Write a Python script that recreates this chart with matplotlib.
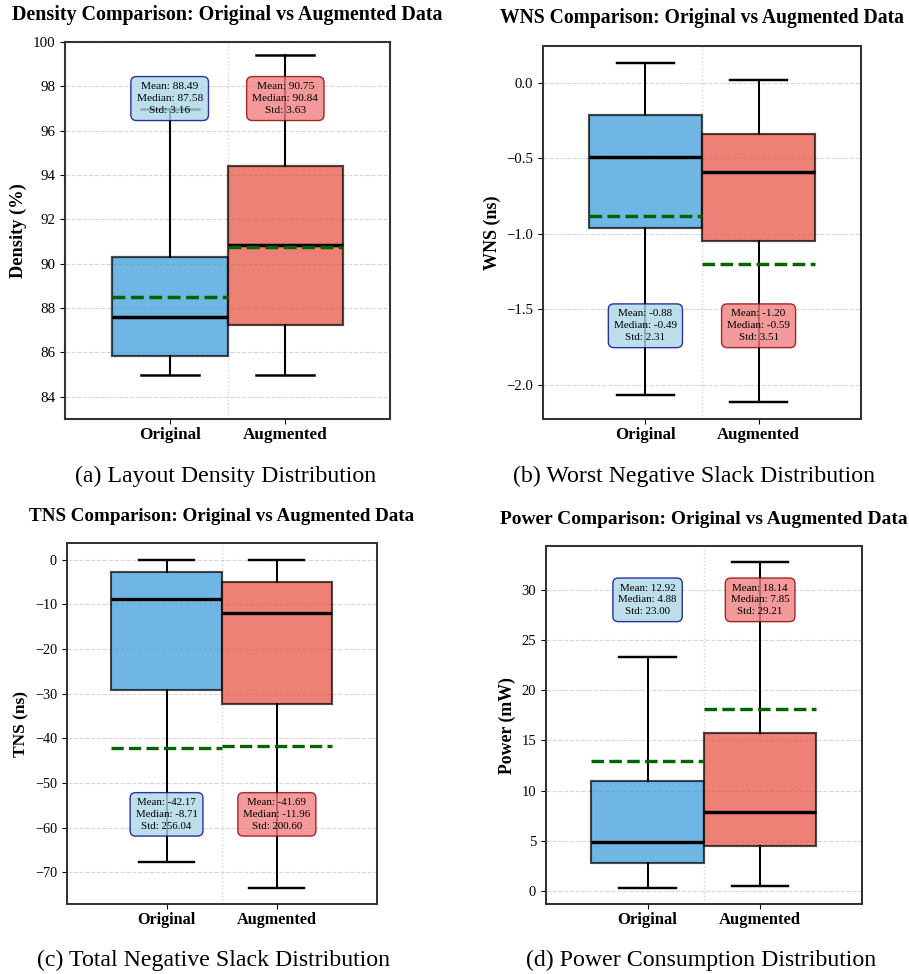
import matplotlib
matplotlib.use("Agg")
import matplotlib.pyplot as plt

plt.rcParams.update({
    'font.family': ['Liberation Serif', 'DejaVu Serif'],
})

groups = ["Original", "Augmented"]

# Density (%)
density_whislo = [85.0, 85.0]
density_q1 = [85.84, 87.22]
density_med = [87.58, 90.84]
density_q3 = [90.30, 94.41]
density_whishi = [97.0, 99.41]
density_mean = [88.49, 90.75]
density_std = [3.16, 3.63]

# WNS (ns)
wns_whislo = [-2.067, -2.115]
wns_q1 = [-0.961, -1.049]
wns_med = [-0.49, -0.59]
wns_q3 = [-0.216, -0.342]
wns_whishi = [0.132, 0.020]
wns_mean = [-0.88, -1.20]
wns_std = [2.31, 3.51]

# TNS (ns)
tns_whislo = [-67.6, -73.4]
tns_q1 = [-29.1, -32.4]
tns_med = [-8.71, -11.96]
tns_q3 = [-2.84, -5.09]
tns_whishi = [0.0, 0.0]
tns_mean = [-42.17, -41.69]
tns_std = [256.04, 200.60]

# Power (mW)
power_whislo = [0.26, 0.43]
power_q1 = [2.8, 4.5]
power_med = [4.88, 7.85]
power_q3 = [11.0, 15.76]
power_whishi = [23.33, 32.8]
power_mean = [12.92, 18.14]
power_std = [23.00, 29.21]

W, H = 909, 974
fig = plt.figure(figsize=(W / 100, H / 100), dpi=100)


def px_axes(l, t, r, b):
    return fig.add_axes([l / W, 1 - b / H, (r - l) / W, (b - t) / H])


def draw_panel(rect, s, whislo, q1, med, q3, whishi, mean, std,
               ylabel, title, title_xy, caption, caption_xy, text_y, ylim=None):
    ax = px_axes(*rect)
    stats = []
    for i in range(2):
        stats.append(dict(whislo=whislo[i], q1=q1[i], med=med[i], q3=q3[i],
                          whishi=whishi[i], mean=mean[i], fliers=[]))
    bp = ax.bxp(stats, positions=[1, 2], widths=1.0, patch_artist=True,
                showmeans=True, meanline=True,
                medianprops=dict(color='black', linewidth=2.5 * s),
                meanprops=dict(color='darkgreen', linestyle='--', linewidth=2.5 * s),
                whiskerprops=dict(color='black', linewidth=1.5 * s),
                capprops=dict(color='black', linewidth=1.8 * s),
                boxprops=dict(linewidth=1.6 * s))
    for patch, c in zip(bp['boxes'], ['#3498db', '#e74c3c']):
        patch.set_facecolor(c)
        patch.set_edgecolor('black')
        patch.set_alpha(0.7)

    ax.set_xlim(0.095, 2.905)
    if ylim is not None:
        ax.set_ylim(*ylim)
    ax.axvline(1.5, color='lightgray', linestyle=':', linewidth=1.0, zorder=0)
    ax.grid(axis='y', linestyle='--', alpha=0.5, zorder=0)
    ax.set_axisbelow(True)
    ax.set_xticks([1, 2])
    ax.set_xticklabels(groups, fontsize=12.3 * s, fontweight='bold')
    ax.tick_params(axis='y', labelsize=10.8 * s)
    ax.tick_params(axis='x', pad=2)
    ax.set_ylabel(ylabel, fontsize=13.2 * s, fontweight='bold')
    for sp in ax.spines.values():
        sp.set_linewidth(1.5 * s)
        sp.set_color('#333333')

    box_styles = [dict(boxstyle='round,pad=0.5', facecolor='lightblue', edgecolor='darkblue', alpha=0.8),
                  dict(boxstyle='round,pad=0.5', facecolor='lightcoral', edgecolor='darkred', alpha=0.8)]
    for i in range(2):
        txt = f"Mean: {mean[i]:.2f}\nMedian: {med[i]:.2f}\nStd: {std[i]:.2f}"
        ax.text(i + 1, text_y, txt, ha='center', va='center', fontsize=8.2 * s,
                linespacing=1.4, bbox=box_styles[i], zorder=5)

    fig.text(title_xy[0] / W, 1 - title_xy[1] / H, title, ha='center', va='center',
             fontsize=14.4 * s, fontweight='bold')
    fig.text(caption_xy[0] / W, 1 - caption_xy[1] / H, caption, ha='center', va='center',
             fontsize=17.2)
    return ax


draw_panel((65, 42, 390, 419), 1.0, density_whislo, density_q1, density_med, density_q3,
           density_whishi, density_mean, density_std, 'Density (%)',
           'Density Comparison: Original vs Augmented Data', (227.5, 15),
           '(a) Layout Density Distribution', (226, 476.7), 97.45, ylim=(83, 100))

draw_panel((543, 45.7, 861, 419), 0.98, wns_whislo, wns_q1, wns_med, wns_q3,
           wns_whishi, wns_mean, wns_std, 'WNS (ns)',
           'WNS Comparison: Original vs Augmented Data', (702.3, 18.3),
           '(b) Worst Negative Slack Distribution', (694.5, 476.7), -1.61)

draw_panel((66.7, 543.3, 376.7, 904), 0.951, tns_whislo, tns_q1, tns_med, tns_q3,
           tns_whishi, tns_mean, tns_std, 'TNS (ns)',
           'TNS Comparison: Original vs Augmented Data', (222, 516.7),
           '(c) Total Negative Slack Distribution', (213.8, 960.7), -57.0)

draw_panel((545.7, 546, 862, 904.3), 0.971, power_whislo, power_q1, power_med, power_q3,
           power_whishi, power_mean, power_std, 'Power (mW)',
           'Power Comparison: Original vs Augmented Data', (703.7, 520),
           '(d) Power Consumption Distribution', (701.2, 960.7), 29.05)

plt.savefig('out.png', dpi=100)
